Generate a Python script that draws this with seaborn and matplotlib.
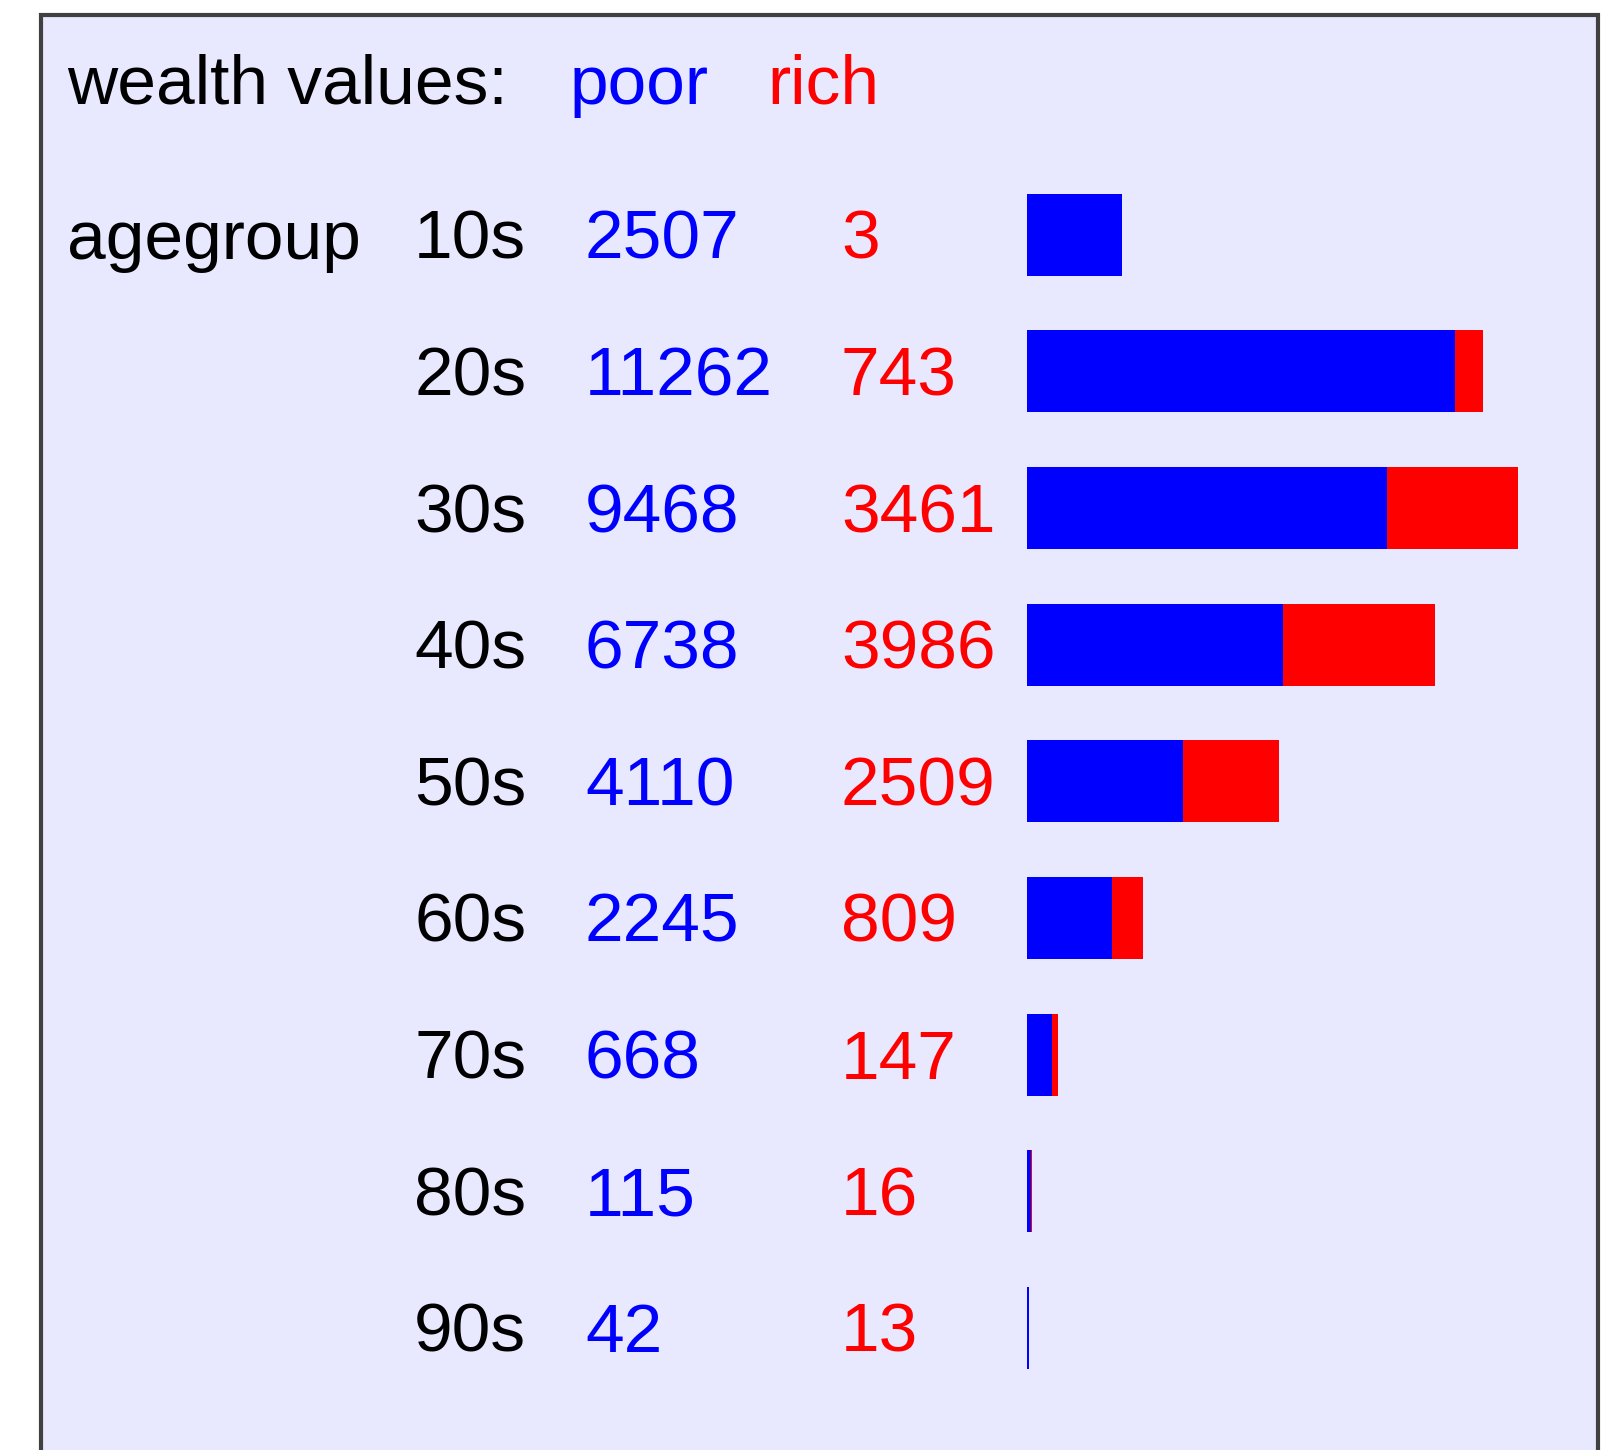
import numpy as np
import pandas as pd
import seaborn as sns
import matplotlib.pyplot as plt
from matplotlib.patches import Rectangle
from matplotlib.transforms import blended_transform_factory

# data
ages = ['10s', '20s', '30s', '40s', '50s', '60s', '70s', '80s', '90s']
poor = [2507, 11262, 9468, 6738, 4110, 2245, 668, 115, 42]
rich = [3, 743, 3461, 3986, 2509, 809, 147, 16, 13]

data = pd.DataFrame({'age': ages, 'poor': poor, 'rich': rich})
data['total'] = data['poor'] + data['rich']

sns.set_style('white')
plt.rcParams['font.family'] = ['Liberation Sans', 'DejaVu Sans']

W, H = 1608, 1450
fig = plt.figure(figsize=(W / 100, H / 100), dpi=100)
fig.patch.set_facecolor('white')

# lavender panel with border (bottom edge runs off the figure)
panel = Rectangle((41 / W, -0.05), (1598 - 41) / W, 1 - 15 / H + 0.05,
                  transform=fig.transFigure, facecolor='#E8E8FF',
                  edgecolor='#404040', linewidth=3, zorder=-5)
fig.patches.append(panel)

# bar area
row_h = 136.65
top_px = 234.8 - row_h / 2
ax = fig.add_axes([1027 / W, (H - top_px - 9 * row_h) / H, 498 / W, 9 * row_h / H])
ax.set_zorder(2)
sns.barplot(data=data, x='total', y='age', orient='h', color='red',
            saturation=1, width=0.6, linewidth=0, ax=ax)
sns.barplot(data=data, x='poor', y='age', orient='h', color='blue',
            saturation=1, width=0.6, linewidth=0, ax=ax)
ax.set_xlim(0, 13100)
ax.set_ylim(8.5, -0.5)
ax.axis('off')

fs = 50
tr = blended_transform_factory(fig.transFigure, ax.transData)
off = 0.175
for i, row in data.iterrows():
    ax.text(414 / W, i + off, row['age'], transform=tr, fontsize=fs,
            color='black', va='baseline', ha='left', clip_on=False)
    ax.text(585 / W, i + off, str(row['poor']), transform=tr, fontsize=fs,
            color='blue', va='baseline', ha='left', clip_on=False)
    ax.text(841 / W, i + off, str(row['rich']), transform=tr, fontsize=fs,
            color='red', va='baseline', ha='left', clip_on=False)
ax.text(67 / W, 0 + off, 'agegroup', transform=tr, fontsize=fs,
        color='black', va='baseline', ha='left', clip_on=False)

# header
hy = 1 - 103.5 / H
fig.text(67 / W, hy, 'wealth values:', fontsize=fs, color='black', va='baseline')
fig.text(570 / W, hy, 'poor', fontsize=fs, color='blue', va='baseline')
fig.text(767 / W, hy, 'rich', fontsize=fs, color='red', va='baseline')

fig.savefig('out.png', dpi=100)
